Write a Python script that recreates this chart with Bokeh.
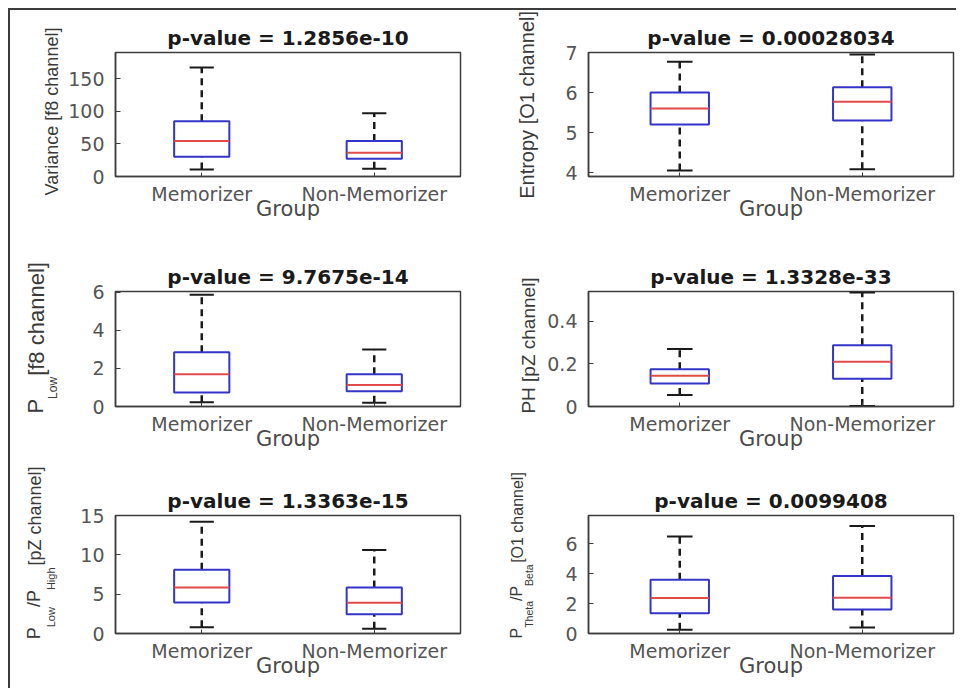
import math
from bokeh.plotting import figure
from bokeh.layouts import gridplot
from bokeh.models import Range1d, FixedTicker, ColumnDataSource, LinearAxis
from bokeh.transform import dodge
from bokeh.embed import file_html
from bokeh.resources import INLINE

# ---------------- data ----------------
groups = ["Memorizer", "Non-Memorizer"]
# each list: [lower whisker, Q1, median, Q3, upper whisker]
variance_f8_mem = [10.6, 30.3, 54.5, 84.8, 167.0]
variance_f8_non = [12.0, 27.3, 36.4, 54.5, 97.0]
entropy_o1_mem = [4.05, 5.2, 5.6, 6.0, 6.77]
entropy_o1_non = [4.08, 5.3, 5.77, 6.13, 6.95]
plow_f8_mem = [0.22, 0.73, 1.7, 2.85, 5.88]
plow_f8_non = [0.2, 0.8, 1.13, 1.7, 3.0]
ph_pz_mem = [0.054, 0.108, 0.144, 0.175, 0.27]
ph_pz_non = [0.002, 0.13, 0.21, 0.288, 0.535]
ratio_pz_mem = [0.8, 3.95, 5.85, 8.1, 14.2]
ratio_pz_non = [0.6, 2.45, 3.9, 5.85, 10.6]
theta_beta_o1_mem = [0.25, 1.35, 2.38, 3.6, 6.5]
theta_beta_o1_non = [0.4, 1.6, 2.4, 3.85, 7.2]

titles = ["p-value = 1.2856e-10", "p-value = 0.00028034", "p-value = 9.7675e-14",
          "p-value = 1.3328e-33", "p-value = 1.3363e-15", "p-value = 0.0099408"]
yticks = [[0, 50, 100, 150], [4, 5, 6, 7], [0, 2, 4, 6], [0, 0.2, 0.4], [0, 5, 10, 15], [0, 2, 4, 6]]
ylims = [(0, 190), (3.9, 7.0), (0, 6.05), (0, 0.54), (0, 15), (0, 7.9)]
xlabel = "Group"
# y-axis labels: subscript pieces and normal-size pieces (read bottom to top)
ylabel_sub = {2: ["Low"], 4: ["Low", "High"], 5: ["Theta", "Beta"]}
ylabel_main = {0: ["Variance [f8 channel]"], 1: ["Entropy [O1 channel]"], 2: ["P", "[f8 channel]"],
               3: ["PH [pZ channel]"], 4: ["P", "/P", "[pZ channel]"], 5: ["P", "/P", "[O1 channel]"]}

# ---------------- style / layout ----------------
BLUE = "#3434c8"
RED = "#e04a48"
DARK = "#3c3c3c"
TICKC = "#555555"
LABC = "#3a3a3a"
HFONT = "DejaVu Sans"
VFONT = "Liberation Sans"
BOXW = 0.32
CAPW = 0.14

# label strips: frame (top, bottom) in page px, frame-left F,
# subscript (centres, px, standoff), main (centres, px, standoff); centres in page px
strip_layout = {
    0: ((52, 176), 48, None, ([111], 18, 1)),
    1: ((52, 176), 52, None, ([103.5], 20, 1)),
    2: ((291, 406), 48, ([387.4], 12, 2), ([405.7, 318.5], 22, -5)),
    3: ((291, 406), 52, None, ([345], 19, 0)),
    4: ((515, 633), 52, ([616.7, 578.3], 11, 5), ([632.7, 598.1, 515.5], 18, -2)),
    5: ((515, 633), 58, ([613.9, 574.6], 10.5, 3), ([632.6, 592.9, 517.0], 16, -5)),
}


def label_axis(centres, texts, size, standoff):
    ticks = [-c for c in centres]
    return LinearAxis(ticker=FixedTicker(ticks=ticks),
                      major_label_overrides={t: s for t, s in zip(ticks, texts)},
                      major_label_orientation="parallel",
                      major_label_text_font=VFONT, major_label_text_font_size=f"{size}px",
                      major_label_text_color=LABC, major_label_standoff=standoff,
                      major_tick_in=0, major_tick_out=0, major_tick_line_color=None,
                      minor_tick_line_color=None, axis_line_color=None)


def make_label_strip(idx, width, height):
    (ftop, fbot), F, sub, main = strip_layout[idx]
    s = figure(width=width, height=height, x_range=Range1d(0, 1), y_range=Range1d(-fbot, -ftop),
               min_border=0, min_border_left=F, toolbar_location=None, output_backend="svg",
               x_axis_type=None, y_axis_type=None,
               outline_line_color=None, background_fill_color="white", border_fill_color="white")
    s.xgrid.visible = False
    s.ygrid.visible = False
    if sub is not None:
        s.add_layout(label_axis(sub[0], ylabel_sub[idx], sub[1], sub[2]), "left")
    s.add_layout(label_axis(main[0], ylabel_main[idx], main[1], main[2]), "left")
    return s


def make_panel(mem, non, title, ylim, ticks, width, height, borders, overrides=None):
    left, right, top, bottom = borders
    p = figure(x_range=groups, y_range=Range1d(*ylim), width=width, height=height,
               output_backend="svg", toolbar_location=None,
               min_border_left=left, min_border_right=right,
               min_border_top=top, min_border_bottom=bottom,
               background_fill_color="white", border_fill_color="white")
    p.x_range.range_padding = 0
    p.xgrid.visible = False
    p.ygrid.visible = False
    p.outline_line_color = DARK
    p.outline_line_width = 1.5

    src = ColumnDataSource(dict(
        x=groups,
        lo=[mem[0], non[0]], q1=[mem[1], non[1]], med=[mem[2], non[2]],
        q3=[mem[3], non[3]], hi=[mem[4], non[4]]))

    p.segment(x0="x", x1="x", y0="q3", y1="hi", source=src, line_color="#1a1a1a",
              line_width=2.5, line_dash="7 5")
    p.segment(x0="x", x1="x", y0="lo", y1="q1", source=src, line_color="#1a1a1a",
              line_width=2.5, line_dash="7 5")
    for col in ("hi", "lo"):
        p.segment(x0=dodge("x", -CAPW / 2, range=p.x_range), x1=dodge("x", CAPW / 2, range=p.x_range),
                  y0=col, y1=col, source=src, line_color="#1a1a1a", line_width=2)
    p.vbar(x="x", width=BOXW, bottom="q1", top="q3", source=src,
           fill_color=None, line_color=BLUE, line_width=2)
    p.segment(x0=dodge("x", -BOXW / 2, range=p.x_range), x1=dodge("x", BOXW / 2, range=p.x_range),
              y0="med", y1="med", source=src, line_color=RED, line_width=2)

    p.title.text = title
    p.title.text_font = HFONT
    p.title.text_font_style = "bold"
    p.title.text_font_size = "20px"
    p.title.text_color = "#1a1a1a"
    p.title.align = "center"
    p.title.standoff = 6

    xa = p.xaxis[0]
    xa.axis_label = xlabel
    xa.axis_label_text_font = HFONT
    xa.axis_label_text_font_size = "21px"
    xa.axis_label_text_font_style = "normal"
    xa.axis_label_text_color = "#4a4a4a"
    xa.axis_label_standoff = -11
    xa.major_label_text_font = HFONT
    xa.major_label_text_font_size = "19px"
    xa.major_label_text_color = TICKC
    xa.major_label_standoff = 6
    xa.major_tick_in = 4
    xa.major_tick_out = 0
    xa.axis_line_color = DARK
    xa.axis_line_width = 1.5
    xa.major_tick_line_color = DARK

    ya = p.yaxis[0]
    ya.ticker = FixedTicker(ticks=ticks)
    ya.major_label_text_font = HFONT
    ya.major_label_text_font_size = "19px"
    ya.major_label_text_color = TICKC
    ya.major_label_standoff = 11
    ya.major_tick_in = 5
    ya.major_tick_out = 0
    ya.minor_tick_line_color = None
    ya.axis_line_color = DARK
    ya.axis_line_width = 1.5
    ya.major_tick_line_color = DARK
    if overrides:
        ya.major_label_overrides = overrides
    return p


p1 = make_panel(variance_f8_mem, variance_f8_non, titles[0], ylims[0], yticks[0], 415, 218, (50, 20, 41, 52))
p2 = make_panel(entropy_o1_mem, entropy_o1_non, titles[1], ylims[1], yticks[1], 416, 218, (27, 3, 42, 51))
p3 = make_panel(plow_f8_mem, plow_f8_non, titles[2], ylims[2], yticks[2], 415, 230, (33, 20, 63, 52))
p4 = make_panel(ph_pz_mem, ph_pz_non, titles[3], ylims[3], yticks[3], 416, 230, (48, 1, 58, 52),
                overrides={0: "0", 0.2: "0.2", 0.4: "0.4"})
p5 = make_panel(ratio_pz_mem, ratio_pz_non, titles[4], ylims[4], yticks[4], 415, 230, (48, 20, 57, 55))
p6 = make_panel(theta_beta_o1_mem, theta_beta_o1_non, titles[5], ylims[5], yticks[5], 416, 230, (37, 1, 55, 55))

l1 = make_label_strip(0, 55, 218)
l2 = make_label_strip(1, 60, 218)
l3 = make_label_strip(2, 55, 230)
l4 = make_label_strip(3, 60, 230)
l5 = make_label_strip(4, 55, 230)
l6 = make_label_strip(5, 60, 230)

grid = gridplot([[l1, p1, l2, p2], [l3, p3, l4, p4], [l5, p5, l6, p6]], toolbar_location=None)
grid.styles = {"margin-top": "8px", "margin-left": "8px",
               "border-top": "2px solid #3c3c3c", "border-left": "2px solid #3c3c3c"}

open("out.html", "w").write(file_html(grid, INLINE))
